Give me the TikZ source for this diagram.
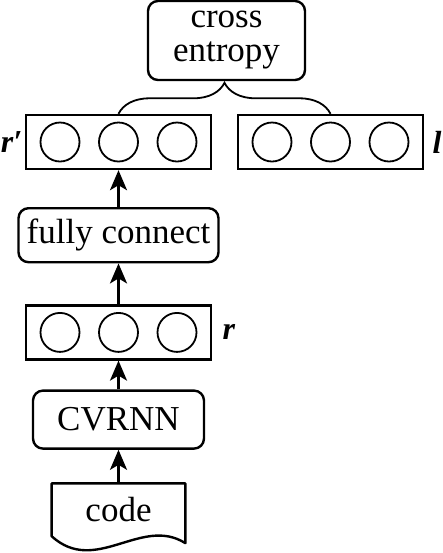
\documentclass[tikz,border=0pt]{standalone}
\usepackage{fontspec}
\setmainfont{Liberation Serif}
\usetikzlibrary{arrows.meta}
\usetikzlibrary{positioning,calc,decorations.pathreplacing}

\begin{document}
\begin{tikzpicture}[
    every node/.style = {font=\fontsize{17.5}{17}\selectfont},
    block/.style = {draw,rounded corners=5pt,line width=1.2pt,align=center,inner sep=2pt},
    vecbox/.style = {draw,line width=1.2pt,minimum width=92.5pt,minimum height=27pt},
    unit/.style = {circle,draw,line width=0.9pt,minimum size=19.5pt,inner sep=0pt},
    vlabel/.style = {font=\fontsize{16}{16}\selectfont\bfseries\itshape,inner sep=0pt},
    arrowline/.style = {-{Stealth[length=10pt,width=8.5pt,inset=2.5pt]},line width=1.2pt},
    ]
    \useasboundingbox (0,0) rectangle (221.5pt,-276.5pt);
    \node[block,minimum width=78.5pt,minimum height=39.5pt] (entropy) at (113.25pt,-20.25pt) {cross\\entropy};
    \node[vecbox] (rprime) at (59.25pt,-71pt) {};
    \node[vecbox] (target) [right = 12.3pt of rprime] {};
    \node[block,minimum width=100pt,minimum height=27pt] (fc) [below = 18.4pt of rprime] {fully connect};
    \node[vecbox] (repr) [below = 20.4pt of fc] {};
    \node[block,minimum width=85.5pt,minimum height=29pt] (cvrnn) [below = 14.4pt of repr] {CVRNN};
    \node[minimum width=66.5pt,minimum height=28pt,inner sep=0pt] (code) [below = 16.8pt of cvrnn] {\raisebox{2.5pt}{code}};
    % units inside the vectors
    \foreach \v in {rprime,target,repr}
        \foreach \i/\dx in {1/-29.25pt,2/0pt,3/29.25pt}
            \node[unit] (\v-\i) at ([xshift=\dx]\v.center) {};
    \node[vlabel] (rprime-label) [left = 1pt of rprime] {r′};
    \node[vlabel] (target-label) [right = 4pt of target] {l};
    \node[vlabel] (repr-label) [right = 5pt of repr] {r};
    % document shape
    \draw[line width=1.2pt,line join=round]
    ([yshift=2pt]code.south west) -- (code.north west) -- (code.north east)
    -- ([yshift=-1.5pt]code.south east)
    .. controls +(-22pt,14pt) and +(22pt,-20pt) .. ([yshift=2pt]code.south west) -- cycle;
    \draw[arrowline] (code) -- (cvrnn);
    \draw[arrowline] (cvrnn) -- (repr);
    \draw[arrowline] (repr) -- (fc);
    \draw[arrowline] (fc) -- (rprime);
    \draw[line width=0.9pt,decorate,decoration={brace,amplitude=15.5pt}]
    (rprime-2 |- rprime.north) -- (target-2 |- rprime.north);
\end{tikzpicture}
\end{document}
